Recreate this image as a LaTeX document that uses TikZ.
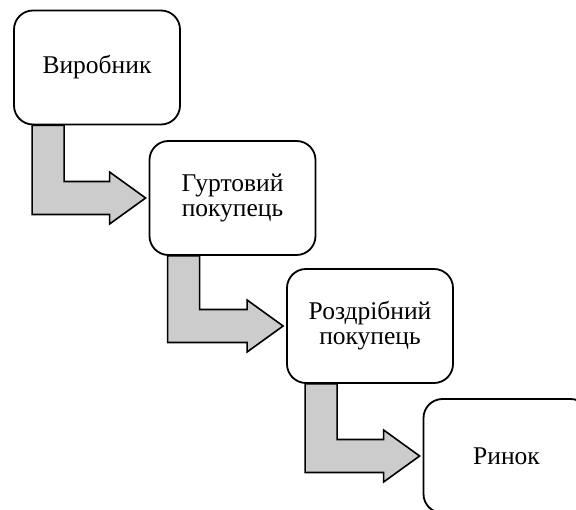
\documentclass[tikz,border=0pt]{standalone}
\usepackage{fontspec}
\setmainfont{Liberation Serif}
\usetikzlibrary{backgrounds,calc}
\begin{document}
\begin{tikzpicture}[x=1pt,y=-1pt,
  box/.style={draw=black, line width=1.8pt, fill=white, rounded corners=19pt,
    minimum width=166pt, minimum height=114pt, align=center,
    font=\fontsize{25.5}{25}\selectfont, inner sep=0pt},
  bent/.style={draw=black, line width=1.6pt, fill=black!20, line join=miter}]
\useasboundingbox (0,0) rectangle (576,510);
\clip (0,0) rectangle (576,510);
\node[box] (b1) at (97,67.5) {Виробник};
\node[box] (b2) at (232.5,198) {Гуртовий\\покупець};
\node[box] (b3) at (370,326) {Роздрібний\\покупець};
\node[box] (b4) at (506.5,456) {Ринок};
\begin{scope}[on background layer]
\foreach \a/\b in {b1/b2, b2/b3, b3/b4}{
  \draw[bent] let \p1=(\a.south west), \p2=(\b.west) in
    (\x1+19pt,\y1) -- (\x1+51pt,\y1) -- (\x1+51pt,\y2+16.5pt)
    -- (\x2-39pt,\y2+16.5pt) -- (\x2-39pt,\y2+26pt) -- (\x2-3pt,\y2)
    -- (\x2-39pt,\y2-26pt) -- (\x2-39pt,\y2-16.5pt) -- (\x1+19pt,\y2-16.5pt) -- cycle;
}
\end{scope}
\end{tikzpicture}
\end{document}
